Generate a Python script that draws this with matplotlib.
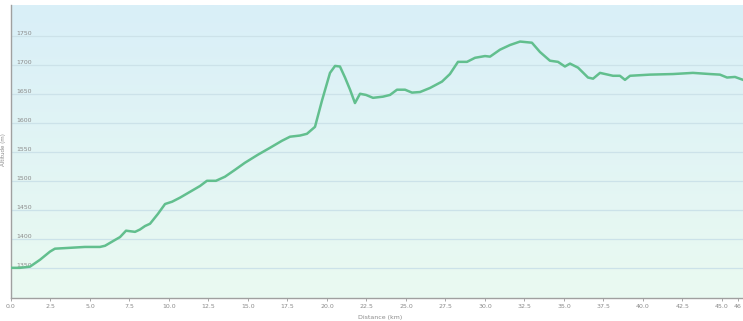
import numpy as np
import matplotlib
matplotlib.use('Agg')
import matplotlib.pyplot as plt
from matplotlib.colors import LinearSegmentedColormap

# Elevation profile
distance_km = [0.0, 0.57, 1.2, 1.84, 2.47, 2.78, 3.42, 4.68, 5.63, 5.95, 6.58, 6.9, 7.28,
               7.85, 8.16, 8.48, 8.8, 9.3, 9.75, 10.2, 10.7, 11.33, 11.96, 12.4, 12.97,
               13.54, 14.18, 14.8, 15.63, 16.4, 17.15, 17.66, 18.29, 18.73, 19.24, 19.68,
               20.19, 20.51, 20.82, 21.14, 21.46, 21.77, 22.09, 22.47, 22.91, 23.54, 23.99,
               24.43, 24.94, 25.38, 25.89, 26.52, 27.28, 27.78, 28.29, 28.86, 29.37, 30.0,
               30.32, 30.95, 31.58, 32.22, 32.97, 33.48, 34.11, 34.62, 35.06, 35.38, 35.89,
               36.52, 36.84, 37.28, 38.1, 38.54, 38.86, 39.18, 40.44, 41.9, 43.16, 44.24,
               44.87, 45.32, 45.82, 46.33]
altitude_m = [1350, 1350, 1352, 1364, 1378, 1383, 1384, 1386, 1386, 1388, 1398, 1403, 1414,
              1412, 1416, 1422, 1426, 1443, 1460, 1464, 1471, 1481, 1491, 1500, 1500,
              1507, 1519, 1531, 1545, 1557, 1569, 1576, 1578, 1581, 1593, 1638,
              1686, 1698, 1697, 1678, 1657, 1634, 1650, 1648, 1643, 1645, 1648,
              1657, 1657, 1652, 1653, 1660, 1671, 1684, 1705, 1705, 1712, 1715,
              1714, 1726, 1734, 1740, 1738, 1722, 1707, 1705, 1697, 1702, 1695,
              1678, 1676, 1686, 1681, 1681, 1674, 1681, 1683, 1684, 1686, 1684,
              1683, 1678, 1679, 1674]

y_ticks = [1350, 1400, 1450, 1500, 1550, 1600, 1650, 1700, 1750]
x_ticks = [0.0, 2.5, 5.0, 7.5, 10.0, 12.5, 15.0, 17.5, 20.0, 22.5, 25.0, 27.5,
           30.0, 32.5, 35.0, 37.5, 40.0, 42.5, 45.0, 46.0]
x_labels = ['0.0', '2.5', '5.0', '7.5', '10.0', '12.5', '15.0', '17.5', '20.0', '22.5',
            '25.0', '27.5', '30.0', '32.5', '35.0', '37.5', '40.0', '42.5', '45.0', '46']

fig = plt.figure(figsize=(7.43, 3.21), dpi=100)
ax = fig.add_axes([11 / 743, 23 / 321, 732 / 743, 293 / 321])

xmin, xmax = 0, 46.33
ymin, ymax = 1298, 1803
ax.set_xlim(xmin, xmax)
ax.set_ylim(ymin, ymax)

# background gradient: light blue on top, mint green at the bottom
cmap = LinearSegmentedColormap.from_list('bg', ['#eafaf1', '#d9eff8'])
grad = np.linspace(0, 1, 256).reshape(-1, 1)
ax.imshow(grad, cmap=cmap, aspect='auto', origin='lower',
          extent=[xmin, xmax, ymin, ymax], zorder=0)

for y in y_ticks:
    ax.axhline(y, color='#cce2e9', lw=0.9, zorder=1)

ax.plot(distance_km, altitude_m, color='#62bf8e', lw=1.8, zorder=3,
        solid_joinstyle='round')

ax.set_yticks(y_ticks)
ax.set_yticklabels([str(v) for v in y_ticks])
ax.tick_params(axis='y', length=0, pad=-4, labelsize=4.5, labelcolor='#8a8a8a')
for lbl in ax.get_yticklabels():
    lbl.set_horizontalalignment('left')
    lbl.set_verticalalignment('bottom')

ax.set_xticks(x_ticks)
ax.set_xticklabels(x_labels)
ax.tick_params(axis='x', length=2, width=0.6, color='#999999', pad=2,
               labelsize=4.5, labelcolor='#8a8a8a')

for s in ['top', 'right']:
    ax.spines[s].set_visible(False)
for s in ['left', 'bottom']:
    ax.spines[s].set_color('#a0a0a0')
    ax.spines[s].set_linewidth(1.0)

fig.text(4 / 743, 1 - 150 / 321, 'Altitude (m)', rotation=90, fontsize=4,
         color='#8a8a8a', ha='center', va='center')
fig.text(380 / 743, 1 - 317 / 321, 'Distance (km)', fontsize=4.5,
         color='#8a8a8a', ha='center', va='center')

fig.savefig('out.png', dpi=100)
